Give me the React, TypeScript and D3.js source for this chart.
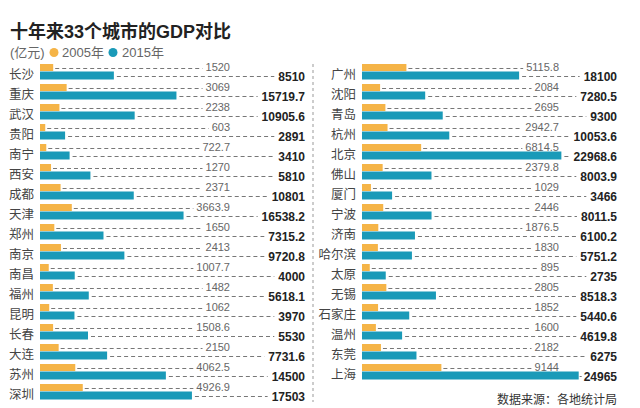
import React, { useRef, useEffect } from "react";
import * as d3 from "d3";

const width = 640;
const height = 408;

const leftCities = ["长沙", "重庆", "武汉", "贵阳", "南宁", "西安", "成都", "天津", "郑州", "南京", "南昌", "福州", "昆明", "长春", "大连", "苏州", "深圳"];
const left2005 = [1520, 3069, 2238, 603, 722.7, 1270, 2371, 3663.9, 1650, 2413, 1007.7, 1482, 1062, 1508.6, 2150, 4062.5, 4926.9];
const left2015 = [8510, 15719.7, 10905.6, 2891, 3410, 5810, 10801, 16538.2, 7315.2, 9720.8, 4000, 5618.1, 3970, 5530, 7731.6, 14500, 17503];

const rightCities = ["广州", "沈阳", "青岛", "杭州", "北京", "佛山", "厦门", "宁波", "济南", "哈尔滨", "太原", "无锡", "石家庄", "温州", "东莞", "上海"];
const right2005 = [5115.8, 2084, 2695, 2942.7, 6814.5, 2379.8, 1029, 2446, 1876.5, 1830, 895, 2805, 1852, 1600, 2182, 9144];
const right2015 = [18100, 7280.5, 9300, 10053.6, 22968.6, 8003.9, 3466, 8011.5, 6100.2, 5751.2, 2735, 8518.3, 5440.6, 4619.8, 6275, 24965];

const orange = "#f5b447";
const teal = "#1a9ab8";
const font = "'Liberation Sans', 'Noto Sans CJK SC', sans-serif";

const x = d3.scaleLinear().domain([0, 25000]).range([0, 217]);
const rowTop = 64;
const rowStep = 20;

const App = () => {
  const svgRef = useRef<SVGSVGElement>(null);

  useEffect(() => {
    const svg = d3.select(svgRef.current);
    svg.selectAll("*").remove();

    svg.append("rect").attr("width", width).attr("height", height).attr("fill", "#fff");

    svg.append("text")
      .attr("x", 10).attr("y", 38)
      .attr("font-family", font)
      .attr("font-size", 18).attr("font-weight", "bold")
      .attr("fill", "#222")
      .text("十年来33个城市的GDP对比");

    const legend = svg.append("g").attr("font-family", font).attr("font-size", 13).attr("fill", "#666");
    legend.append("text").attr("x", 10).attr("y", 57).text("(亿元)");
    legend.append("circle").attr("cx", 54).attr("cy", 52.5).attr("r", 4.5).attr("fill", orange);
    legend.append("text").attr("x", 62).attr("y", 57).text("2005年");
    legend.append("circle").attr("cx", 113).attr("cy", 52.5).attr("r", 4.5).attr("fill", teal);
    legend.append("text").attr("x", 122).attr("y", 57).text("2015年");

    const drawColumn = (cities: string[], v05: number[], v15: number[], base: number, labelRight: number, oRight: number, tRight: number) => {
      const g = svg.append("g");
      cities.forEach((c, i) => {
        const t = rowTop + i * rowStep;
        const row = g.append("g");

        row.append("text")
          .attr("x", labelRight).attr("y", t + 15)
          .attr("text-anchor", "end")
          .attr("font-family", font).attr("font-size", 12.5)
          .attr("fill", "#444")
          .text(c);

        row.append("rect")
          .attr("x", base).attr("y", t)
          .attr("width", x(v05[i])).attr("height", 7)
          .attr("fill", orange);
        row.append("rect")
          .attr("x", base).attr("y", t + 7.5)
          .attr("width", x(v15[i])).attr("height", 8)
          .attr("fill", teal);

        const oText = row.append("text")
          .attr("x", oRight).attr("y", t + 7)
          .attr("text-anchor", "end")
          .attr("font-family", font).attr("font-size", 11)
          .attr("fill", "#666")
          .text(String(v05[i]));
        const tText = row.append("text")
          .attr("x", tRight).attr("y", t + 17)
          .attr("text-anchor", "end")
          .attr("font-family", font).attr("font-size", 12).attr("font-weight", "bold")
          .attr("fill", "#222")
          .text(String(v15[i]));

        const ow = (oText.node() as SVGTextElement).getComputedTextLength();
        const tw = (tText.node() as SVGTextElement).getComputedTextLength();

        row.append("line")
          .attr("x1", base + x(v05[i]) + 2).attr("x2", oRight - ow - 3)
          .attr("y1", t + 4.5).attr("y2", t + 4.5)
          .attr("stroke", "#777").attr("stroke-width", 1)
          .attr("stroke-dasharray", "4,3");
        row.append("line")
          .attr("x1", base + x(v15[i]) + 3).attr("x2", tRight - tw - 4)
          .attr("y1", t + 12.5).attr("y2", t + 12.5)
          .attr("stroke", "#777").attr("stroke-width", 1)
          .attr("stroke-dasharray", "4,3");
      });
    };

    drawColumn(leftCities, left2005, left2015, 40, 34, 230, 305);
    drawColumn(rightCities, right2005, right2015, 362, 356, 559, 617);

    svg.append("line")
      .attr("x1", 313).attr("x2", 313)
      .attr("y1", 64).attr("y2", 402)
      .attr("stroke", "#999").attr("stroke-width", 1)
      .attr("stroke-dasharray", "3,3");

    svg.append("text")
      .attr("x", 617).attr("y", 404)
      .attr("text-anchor", "end")
      .attr("font-family", font).attr("font-size", 12)
      .attr("fill", "#333")
      .text("数据来源：各地统计局");
  }, []);

  return (
    <svg ref={svgRef} width={width} height={height} style={{ position: "absolute", left: 0, top: 0 }} />
  );
};

export default App;
